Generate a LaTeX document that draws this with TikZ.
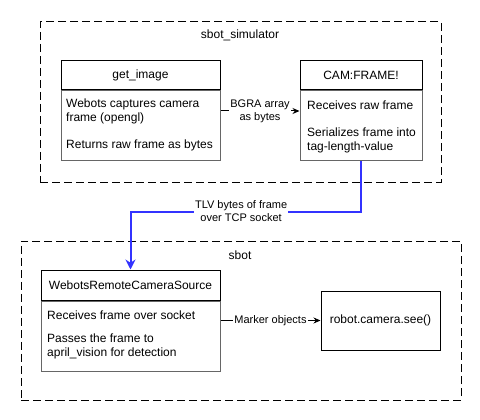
\documentclass[tikz,border=0pt]{standalone}
\usepackage{fontspec}
\setmainfont{Liberation Sans}
\usepackage{xcolor}
\definecolor{simgray}{RGB}{102, 102, 102}
\definecolor{simblue}{RGB}{51, 51, 255}
\usetikzlibrary{arrows.meta, positioning}

\begin{document}
\begin{tikzpicture}[x=1pt, y=-1pt, >=Stealth,
    font=\fontsize{12}{14}\selectfont,
    group/.style={rectangle, draw=black, line width=1pt, dash pattern=on 8pt off 4pt},
    header/.style={rectangle, draw=black, line width=1pt, fill=white, inner sep=0pt},
    body/.style={rectangle, draw=simgray, line width=1pt, fill=white, inner sep=0pt},
    item/.style={anchor=west, align=left, inner sep=0pt},
    label/.style={font=\fontsize{11}{13}\selectfont, fill=white, align=center, inner sep=1pt},
    flow/.style={->, line width=1pt, >={Stealth[length=7pt, width=6pt]}},
    link/.style={->, line width=2pt, draw=simblue, >={Stealth[length=10pt, width=10pt]}}
]
\useasboundingbox (0,0) rectangle (480,420);

% === sbot_simulator ===
\node[group, minimum width=401pt, minimum height=160pt] (simbox) at (240.5, 102) {};
\node (simtitle) at (240, 35) {sbot\_simulator};

\node[header, minimum width=159pt, minimum height=29pt] (ghead) at (140.5, 75.5) {get\_image};
\node[body, minimum width=159pt, minimum height=70pt, below=0pt of ghead] (gbody) {};
\node[item] (gcap) at (66, 111) {Webots captures camera\\frame (opengl)};
\node[item] (gret) at (66, 145) {Returns raw frame as bytes};

\node[header, minimum width=122pt, minimum height=29pt] (chead) at (361, 75.5) {CAM:FRAME!};
\node[body, minimum width=122pt, minimum height=70pt, below=0pt of chead] (cbody) {};
\node[item] (crecv) at (307, 105) {Receives raw frame};
\node[item] (cser) at (307, 140) {Serializes frame into\\tag-length-value};

\draw[flow] (gbody.east |- gcap) -- node[label] (bgra) {BGRA array\\as bytes} (cbody.west |- gcap);

% === sbot ===
\node[group, minimum width=440pt, minimum height=159pt] (sbotbox) at (241, 320.5) {};
\node (sbottitle) at (240, 255) {sbot};

\node[header, minimum width=179pt, minimum height=30pt] (whead) at (130.5, 285) {WebotsRemoteCameraSource};
\node[body, minimum width=179pt, minimum height=70pt, below=0pt of whead] (wbody) {};
\node[item] (wrecv) at (47, 315) {Receives frame over socket};
\node[item] (wpass) at (47, 346.5) {Passes the frame to\\april\_vision for detection};

\node[rectangle, draw=black, line width=1pt, minimum width=119pt, minimum height=59pt] (see) at (380.5, 320.5) {robot.camera.see()};

\draw[flow] (wbody.east |- see) -- node[label] (marker) {Marker objects} (see);

% === TCP link between the two ===
\draw[link] (cbody.south) -- ++(0, 50) -| node[label, pos=0.26] (tlv) {TLV bytes of frame\\over TCP socket} (whead.north);

\end{tikzpicture}
\end{document}
